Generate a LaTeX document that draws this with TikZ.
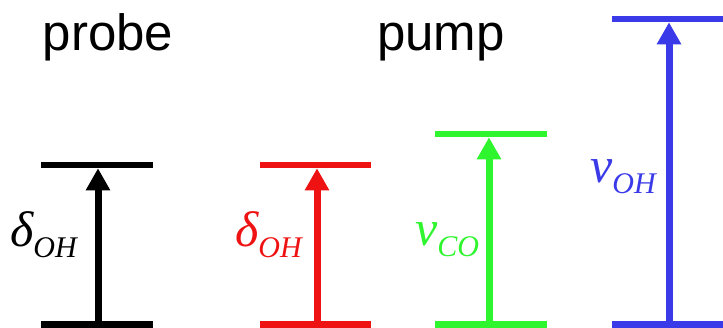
\documentclass[tikz,border=0pt]{standalone}
\usepackage{fontspec}
\setmainfont{Liberation Sans}
\newfontfamily\labfamily{Liberation Serif}
\usetikzlibrary{arrows.meta}
\definecolor{pumpred}{RGB}{238, 18, 18}
\definecolor{pumpgreen}{RGB}{46, 245, 46}
\definecolor{pumpblue}{RGB}{58, 58, 232}
\newcommand{\lsub}[1]{\raisebox{-11.5pt}{\fontsize{30}{30}\selectfont #1}}

\begin{document}
\begin{tikzpicture}[
    x=1pt, y=-1pt,
    level/.style={line width=6.5pt},
    trans/.style={line width=7pt, -{Triangle[length=22pt, width=23pt]}},
    lab/.style={anchor=base west, inner sep=0pt,
      font=\labfamily\itshape\fontsize{50}{50}\selectfont},
    title/.style={anchor=base, inner sep=0pt, font=\fontsize{51}{60}\selectfont}
]
  \useasboundingbox (0,0) rectangle (723,327);

  % titles
  \node[title] (probe) at (108,50) {probe};
  \node[title] (pump)  at (441,50) {pump};

  % probe: delta OH
  \coordinate (p0l) at (41,324.5);  \coordinate (p0r) at (153,324.5);
  \coordinate (p1l) at (41,165);    \coordinate (p1r) at (153,165);
  \draw[level] (p0l) -- (p0r);
  \draw[level] (p1l) -- (p1r);
  \draw[trans] (98,324.5) coordinate (pa) -- (98,168.25) coordinate (pb);
  \node[lab] (dprobe) at (10,246) {δ\lsub{OH}};

  % pump: delta OH
  \coordinate (r0l) at (260,324.5); \coordinate (r0r) at (371,324.5);
  \coordinate (r1l) at (260,165);   \coordinate (r1r) at (371,165);
  \draw[level,pumpred] (r0l) -- (r0r);
  \draw[level,pumpred] (r1l) -- (r1r);
  \draw[trans,pumpred] (317,324.5) coordinate (ra) -- (317,168.25) coordinate (rb);
  \node[lab,text=pumpred] (dpump) at (235,246) {δ\lsub{OH}};

  % pump: nu CO
  \coordinate (g0l) at (435,324.5); \coordinate (g0r) at (547,324.5);
  \coordinate (g1l) at (435,134);   \coordinate (g1r) at (547,134);
  \draw[level,pumpgreen] (g0l) -- (g0r);
  \draw[level,pumpgreen] (g1l) -- (g1r);
  \draw[trans,pumpgreen] (489,324.5) coordinate (ga) -- (489,137.25) coordinate (gb);
  \node[lab,text=pumpgreen] (nco) at (415,245) {ν\lsub{CO}};

  % pump: nu OH
  \coordinate (b0l) at (612,324.5); \coordinate (b0r) at (730,324.5);
  \coordinate (b1l) at (612,19);    \coordinate (b1r) at (730,19);
  \draw[level,pumpblue] (b0l) -- (b0r);
  \draw[level,pumpblue] (b1l) -- (b1r);
  \draw[trans,pumpblue] (669,324.5) coordinate (ba) -- (669,22.25) coordinate (bb);
  \node[lab,text=pumpblue] (noh) at (590,182) {ν\lsub{OH}};
\end{tikzpicture}
\end{document}
